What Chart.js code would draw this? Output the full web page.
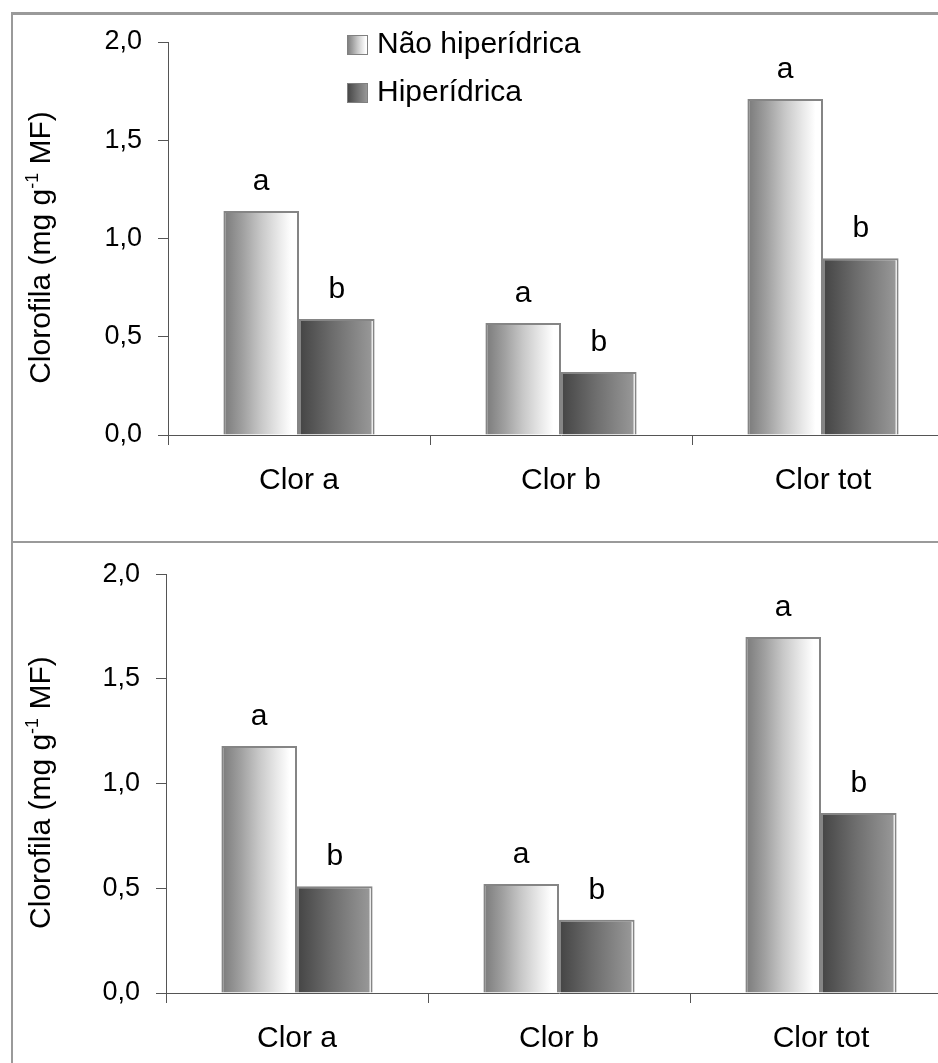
<!DOCTYPE html>
<html>
<head>
<meta charset="utf-8">
<script src="https://cdn.jsdelivr.net/npm/chart.js@4.4.1/dist/chart.umd.min.js"></script>
<style>
  html, body { margin: 0; padding: 0; width: 938px; height: 1063px; overflow: hidden; background: #fff; }
  .frame { position: absolute; border: 0 solid #9a9a9a; }
  canvas { position: absolute; left: 0; }
</style>
</head>
<body>
<div class="frame" style="left:11px;top:12px;width:1000px;height:526px;border-top-width:3px;border-left-width:2px;border-bottom-width:2px"></div>
<div class="frame" style="left:11px;top:543px;width:1000px;height:600px;border-left-width:2px"></div>
<canvas id="chartTop" style="top:0"></canvas>
<canvas id="chartBottom" style="top:542px"></canvas>
<script>
const categories = ['Clor a', 'Clor b', 'Clor tot'];
const seriesNames = ['Não hiperídrica', 'Hiperídrica'];

// painel superior
const topNaoHiper = [1.14, 0.57, 1.71];
const topHiper = [0.59, 0.32, 0.90];
// painel inferior
const bottomNaoHiper = [1.18, 0.52, 1.70];
const bottomHiper = [0.51, 0.35, 0.86];

const lettersNaoHiper = ['a', 'a', 'a'];
const lettersHiper = ['b', 'b', 'b'];

const yTicks = [0, 0.5, 1.0, 1.5, 2.0];
const yTitleParts = ['Clorofila (mg g', '-1', ' MF)'];

const FONT = "'Liberation Sans', Arial, sans-serif";
Chart.defaults.font.family = FONT;
Chart.defaults.color = '#000';

const CAT_PCT = 0.577;
const AXIS = '#555';
const FILL_NAO = [[0, '#7a7a7a'], [0.25, '#9f9f9f'], [0.5, '#c8c8c8'], [0.75, '#ebebeb'], [0.9, '#ffffff'], [1, '#ffffff']];
const FILL_HIP = [[0, '#444444'], [0.45, '#6d6d6d'], [0.955, '#979797'], [0.965, '#ffffff'], [1, '#ffffff']];

// horizontal gradient following each bar, placed from the category scale
function barFill(stops, side) {
  return (ctx) => {
    const chart = ctx.chart;
    const xs = chart.scales.x;
    if (!chart.chartArea || !xs || ctx.dataIndex === undefined) return stops[1][1];
    const c = xs.getPixelForValue(ctx.dataIndex);
    const w = (xs.width / categories.length) * CAT_PCT / 2;
    const x0 = side === 0 ? c - w : c;
    const g = chart.ctx.createLinearGradient(x0, 0, x0 + w, 0);
    stops.forEach(([o, col]) => g.addColorStop(o, col));
    return g;
  };
}

function legendFill(ctx, stops, x, w) {
  const g = ctx.createLinearGradient(x, 0, x + w, 0);
  stops.forEach(([o, col]) => g.addColorStop(o, col));
  return g;
}

const decorPlugin = {
  id: 'decor',
  afterDatasetsDraw(chart, args, opts) {
    const ctx = chart.ctx;
    const area = chart.chartArea;
    ctx.save();
    // letras sobre as barras
    ctx.font = '30px ' + FONT;
    ctx.fillStyle = '#000';
    ctx.textAlign = 'center';
    ctx.textBaseline = 'alphabetic';
    [lettersNaoHiper, lettersHiper].forEach((letters, d) => {
      chart.getDatasetMeta(d).data.forEach((bar, i) => {
        ctx.fillText(letters[i], bar.x, bar.y - 21);
      });
    });

    // titulo do eixo y com sobrescrito
    const cy = (area.top + area.bottom) / 2 + 9;
    ctx.translate(50, cy);
    ctx.rotate(-Math.PI / 2);
    ctx.textAlign = 'left';
    const big = '30px ' + FONT, small = '18px ' + FONT;
    ctx.font = big; const w0 = ctx.measureText(yTitleParts[0]).width;
    ctx.font = small; const w1 = ctx.measureText(yTitleParts[1]).width;
    ctx.font = big; const w2 = ctx.measureText(yTitleParts[2]).width;
    let x = -(w0 + w1 + w2) / 2;
    ctx.font = big; ctx.fillText(yTitleParts[0], x, 0); x += w0;
    ctx.font = small; ctx.fillText(yTitleParts[1], x, -12); x += w1;
    ctx.font = big; ctx.fillText(yTitleParts[2], x, 0);
    ctx.restore();

    // legenda
    if (opts.legend) {
      ctx.save();
      ctx.font = '30px ' + FONT;
      ctx.textAlign = 'left';
      ctx.textBaseline = 'alphabetic';
      const bx = area.left + 179;
      [FILL_NAO, FILL_HIP].forEach((stops, d) => {
        const by = area.top - 7 + d * 48;
        ctx.fillStyle = legendFill(ctx, stops, bx, 21);
        ctx.fillRect(bx, by, 21, 20);
        ctx.strokeStyle = '#808080';
        ctx.lineWidth = 1;
        ctx.strokeRect(bx + 0.5, by + 0.5, 20, 19);
        ctx.fillStyle = '#000';
        ctx.fillText(seriesNames[d], bx + 30, by + 18);
      });
      ctx.restore();
    }
  }
};

function makeChart(id, w, h, nao, hip, pad, yWidth, xHeight, legend) {
  const el = document.getElementById(id);
  el.width = w; el.height = h;
  el.style.width = w + 'px'; el.style.height = h + 'px';
  return new Chart(el, {
    type: 'bar',
    data: {
      labels: categories,
      datasets: [
        { label: seriesNames[0], data: nao, backgroundColor: barFill(FILL_NAO, 0),
          borderColor: '#858585', borderWidth: 2, categoryPercentage: CAT_PCT, barPercentage: 1 },
        { label: seriesNames[1], data: hip, backgroundColor: barFill(FILL_HIP, 1),
          borderColor: '#858585', borderWidth: 2, categoryPercentage: CAT_PCT, barPercentage: 1 }
      ]
    },
    options: {
      responsive: false,
      animation: false,
      devicePixelRatio: 1,
      layout: { padding: { top: pad.top, right: pad.right, left: 0, bottom: 0 } },
      plugins: { legend: { display: false }, tooltip: { enabled: false }, decor: { legend } },
      scales: {
        x: {
          grid: { drawOnChartArea: false, drawTicks: true, tickLength: 10, color: AXIS },
          border: { color: AXIS, width: 1 },
          ticks: { color: '#000', font: { size: 30 }, padding: 18, maxRotation: 0 },
          afterFit: (s) => { s.height = xHeight; }
        },
        y: {
          min: yTicks[0],
          max: yTicks[yTicks.length - 1],
          grid: { drawOnChartArea: false, drawTicks: true, tickLength: 10, color: AXIS },
          border: { color: AXIS, width: 1 },
          ticks: {
            stepSize: yTicks[1] - yTicks[0],
            color: '#000',
            font: { size: 27 },
            padding: 16,
            callback: (v) => v.toFixed(1).replace('.', ',')
          },
          afterFit: (s) => { s.width = yWidth; }
        }
      }
    },
    plugins: [decorPlugin]
  });
}

makeChart('chartTop', 980, 540, topNaoHiper, topHiper, { top: 42, right: 26 }, 168, 105, true);
makeChart('chartBottom', 980, 521, bottomNaoHiper, bottomHiper, { top: 28, right: 28 }, 166, 70, false);
</script>
</body>
</html>
